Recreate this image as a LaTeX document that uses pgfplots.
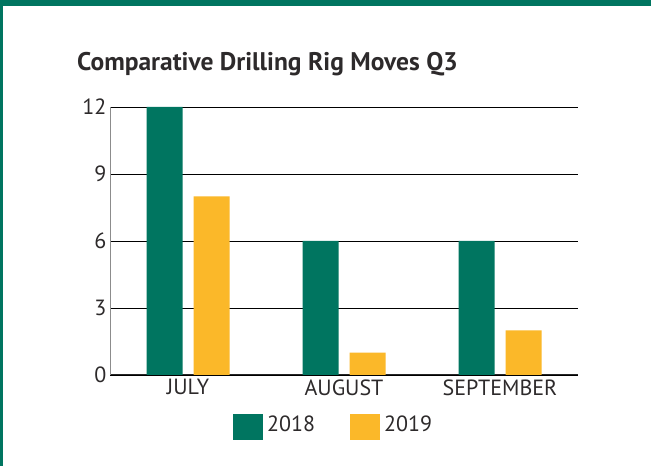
\documentclass[border=0pt]{standalone}
\usepackage{pgfplots}
\pgfplotsset{compat=1.18}
\usepackage{fontspec}
\setmainfont{PT Sans}
\definecolor{rigGreen}{RGB}{0,117,96}
\definecolor{rigYellow}{RGB}{251,184,41}
\definecolor{txt}{RGB}{45,42,43}

\begin{document}
\begin{tikzpicture}[x=1pt,y=1pt]
\useasboundingbox (0,0) rectangle (651,466);
\fill[white] (0,0) rectangle (651,466);
% frame
\fill[rigGreen] (0,460) rectangle (651,466);
\fill[rigGreen] (0,0) rectangle (3,466);
\node[anchor=base west, font=\fontsize{25.5}{30}\selectfont\bfseries, text=txt, inner sep=0pt]
  at (77,395) {Comparative Drilling Rig Moves Q3};
\begin{axis}[
  at={(110pt,91pt)}, anchor=south west,
  scale only axis, width=468pt, height=268pt,
  ymin=0, ymax=12, ytick={0,3,6,9,12},
  xmin=-0.5, xmax=2.5, xtick=data,
  xticklabels={JULY,AUGUST,SEPTEMBER},
  ybar=11pt, bar width=36pt,
  axis x line*=bottom, axis y line*=left,
  ymajorgrids, major grid style={black, line width=0.9pt},
  x axis line style={black!85, line width=1pt, -},
  y axis line style={black!45, line width=0.8pt, -},
  major tick length=0pt,
  /pgf/number format/assume math mode=true,
  tick label style={font=\fontsize{22}{26}\selectfont, text=txt},
  xticklabel style={yshift=-1pt},
  legend style={at={(axis description cs:0.2628,-0.1437)}, anchor=north west,
    draw=none, fill=none, inner sep=0pt, legend columns=2,
    nodes={inner sep=2pt}, font=\fontsize{22}{26}\selectfont, text=txt,
    /tikz/every even column/.append style={column sep=33pt}},
  legend image code/.code={\fill[#1] (0pt,-15pt) rectangle (30pt,11pt); \path (32pt,0pt);},
]
\addplot[fill=rigGreen, draw=none] coordinates {(0,12) (1,6) (2,6)};
\addlegendentry{2018}
\addplot[fill=rigYellow, draw=none] coordinates {(0,8) (1,1) (2,2)};
\addlegendentry{2019}
\end{axis}
\end{tikzpicture}
\end{document}
